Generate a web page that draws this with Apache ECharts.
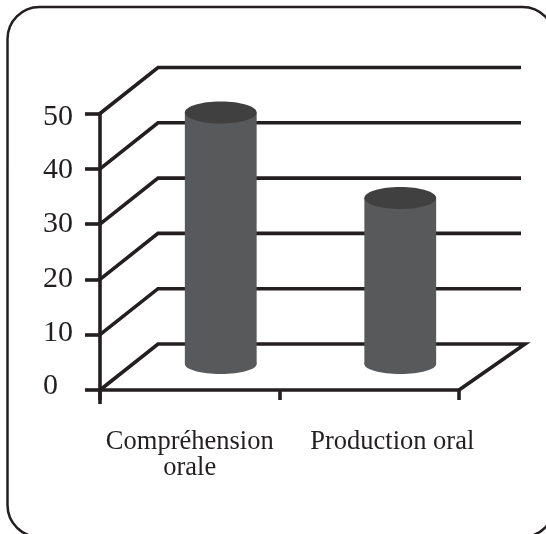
<!DOCTYPE html>
<html><head><meta charset="utf-8">
<style>html,body{margin:0;padding:0;background:#fff}#c{width:546px;height:534px}</style>
<script src="https://cdn.jsdelivr.net/npm/echarts@6/dist/echarts.min.js"></script>
</head><body><div id="c"></div>
<script>
const categories = ['Compréhension\norale', 'Production oral'];
const values = [45.5, 30];
const yTicks = [0, 10, 20, 30, 40, 50];
const INK = '#231f20', BODY = '#58595b', TOP = '#404041';
const DX = 58, DY = -46, WALL_END = 521, LW = 3.6;
const FONT = '"Liberation Serif"';
const chart = echarts.init(document.getElementById('c'), null, {renderer: 'canvas'});

function wallItem(params, api) {
  const v = api.value(0);
  const cs = params.coordSys;
  const y = api.coord([0, v])[1];
  const x0 = cs.x;
  const style = {stroke: INK, lineWidth: LW, fill: null};
  const pts = [[x0, y], [x0 + DX, y + DY], [WALL_END + (v === 0 ? 4 : 0), y + DY]];
  if (v === 0) pts.push([cs.x + cs.width, y]);
  const line = {type: 'polyline', shape: {points: pts}, style: style, silent: true};
  if (v !== 0) return line;
  return {type: 'group', children: [line,
    {type: 'line', shape: {x1: x0, y1: y, x2: x0, y2: y + 14}, style: {stroke: INK, lineWidth: LW}}]};
}
function cylItem(params, api) {
  const i = api.value(0), v = api.value(1);
  const p = api.coord([i, v]), b = api.coord([i, 0]);
  const w = api.size([1, 0])[0] * 0.4;
  const cx = p[0] + DX / 2 + 2;
  const yt = p[1] + DY / 2 - 3, yb = b[1] + DY / 2 - 3;
  return {type: 'group', children: [
    {type: 'ellipse', shape: {cx: cx, cy: yb, rx: w / 2, ry: 10}, style: {fill: BODY}},
    {type: 'rect', shape: {x: cx - w / 2, y: yt, width: w, height: yb - yt}, style: {fill: BODY}},
    {type: 'ellipse', shape: {cx: cx, cy: yt, rx: w / 2, ry: 11}, style: {fill: TOP}}
  ]};
}
const yRich = {};
yTicks.forEach(function (t) {
  const up = {0: 8, 10: 4, 20: 0, 30: 0, 40: 0, 50: 0}[t];
  const down = {0: 0, 10: 0, 20: 0, 30: 0, 40: 2, 50: 8}[t];
  yRich['t' + t] = {fontFamily: FONT, fontSize: 30, color: INK,
    padding: [down, t === 0 ? 15 : 0, up, 0]};
});
chart.setOption({
  animation: false,
  backgroundColor: '#fff',
  graphic: [{type: 'rect', z: -1, shape: {x: 7.5, y: 7, width: 547, height: 530, r: 32},
    style: {fill: '#fff', stroke: INK, lineWidth: 2.5}}],
  grid: {left: 100, top: 113.5, width: 359, height: 276.5, containLabel: false},
  xAxis: {
    type: 'category', data: categories,
    axisLine: {show: true, lineStyle: {color: INK, width: LW}},
    axisTick: {show: true, length: 10, lineStyle: {color: INK, width: LW}},
    axisLabel: {
      show: true, color: INK, fontFamily: FONT, fontSize: 26.5, margin: 39, lineHeight: 26, interval: 0,
      formatter: function (s, i) { return i === 1 ? '{p|' + s + '}' : s; },
      rich: {p: {fontFamily: FONT, fontSize: 26.5, color: INK, padding: [0, 0, 0, 46], lineHeight: 26}}
    }
  },
  yAxis: {
    type: 'value', min: 0, max: 50, interval: 10,
    splitLine: {show: false},
    axisLine: {show: true, lineStyle: {color: INK, width: LW}},
    axisTick: {show: true, length: 15, lineStyle: {color: INK, width: LW}},
    axisLabel: {color: INK, fontFamily: FONT, fontSize: 30, margin: 27,
      formatter: function (v) { return '{t' + v + '|' + v + '}'; }, rich: yRich}
  },
  series: [
    {type: 'custom', clip: false, z: 1, coordinateSystem: 'cartesian2d', renderItem: wallItem,
     encode: {y: 0}, data: yTicks.map(v => [v])},
    {type: 'custom', clip: false, z: 2, coordinateSystem: 'cartesian2d', renderItem: cylItem,
     encode: {x: 0, y: 1}, data: values.map((v, i) => [i, v])}
  ]
});
</script></body></html>
